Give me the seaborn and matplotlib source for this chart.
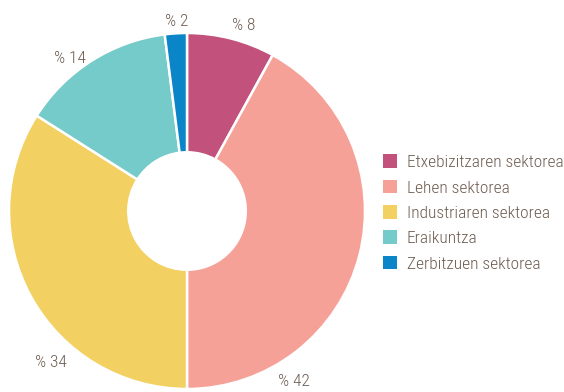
import matplotlib
matplotlib.use("Agg")
import matplotlib.pyplot as plt
from matplotlib.patches import Patch
import numpy as np
import seaborn as sns

# Sector shares (percent), clockwise from 12 o'clock
sectors = ["Etxebizitzaren sektorea", "Lehen sektorea", "Industriaren sektorea",
           "Eraikuntza", "Zerbitzuen sektorea"]
shares = [8, 42, 34, 14, 2]
colors = ["#c2517b", "#f6a198", "#f2d062", "#74cbc9", "#0a86c8"]
# Label placement around the ring: (angle in degrees, radius in data units)
label_pos = [(73, 1.09), (-58, 1.13), (-132, 1.145), (127.4, 1.08), (93, 1.065)]

sns.set_theme(style="white")
plt.rcParams["font.family"] = ["Roboto Condensed", "DejaVu Sans"]
plt.rcParams["font.weight"] = "light"
text_color = "#6e5c50"
palette = sns.color_palette(colors)

fig = plt.figure(figsize=(5.64, 3.92), dpi=100)
ax = fig.add_axes([9 / 564, 3 / 392, 356 / 564, 356 / 392])
ax.pie(shares, colors=palette, startangle=90, counterclock=False, radius=1.0,
       wedgeprops=dict(width=0.67, edgecolor="white", linewidth=1.8))
ax.set_xlim(-1, 1)
ax.set_ylim(-1, 1)
ax.set_aspect("equal")
ax.axis("off")

for val, (ang, r) in zip(shares, label_pos):
    a = np.deg2rad(ang)
    ax.text(r * np.cos(a), r * np.sin(a), f"% {val}", ha="center", va="center",
            fontsize=12.5, color=text_color, clip_on=False)

handles = [Patch(facecolor=c, edgecolor="none") for c in palette]
fig.legend(handles, sectors, loc="center left", bbox_to_anchor=(376 / 564, 1 - 213 / 392),
           borderaxespad=0, frameon=False, fontsize=12.5, labelcolor=text_color,
           handlelength=0.82, handleheight=0.82, handletextpad=0.55, labelspacing=0.55)

fig.savefig("out.png", dpi=100)
